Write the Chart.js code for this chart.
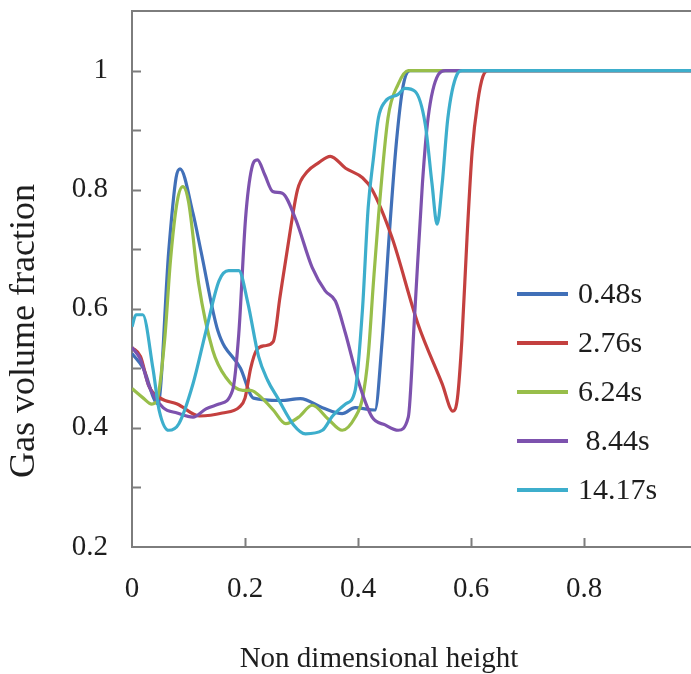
<!DOCTYPE html>
<html>
<head>
<meta charset="utf-8">
<script src="https://cdn.jsdelivr.net/npm/chart.js@4/dist/chart.umd.min.js"></script>
<style>
  html, body { margin: 0; padding: 0; background: #fff; overflow: hidden; }
  #wrap { width: 720px; height: 674px; }
</style>
</head>
<body>
<div id="wrap"><canvas id="gvfCtx" width="720" height="674"></canvas></div>
<script>
// series labels / colours
var seriesLabels = ['0.48s', '2.76s', '6.24s', ' 8.44s', '14.17s'];
var seriesColors = ['#4170B8', '#C4403F', '#98BE4A', '#7D52AE', '#3DAECC'];

// non dimensional height (x) and gas volume fraction (y)
var x048 = [0, 0.02, 0.046, 0.065, 0.078, 0.085, 0.108, 0.122, 0.152, 0.192, 0.215, 0.263, 0.298, 0.337, 0.372, 0.395, 0.43, 0.443, 0.455, 0.468, 0.48, 0.492, 1];
var y048 = [0.525, 0.50, 0.44, 0.697, 0.82, 0.835, 0.76, 0.697, 0.563, 0.50, 0.45, 0.446, 0.449, 0.434, 0.424, 0.434, 0.43, 0.55, 0.72, 0.88, 0.975, 1.0, 1.0];

var x276 = [0, 0.015, 0.03, 0.05, 0.08, 0.12, 0.16, 0.19, 0.2, 0.21, 0.22, 0.235, 0.25, 0.262, 0.275, 0.293, 0.31, 0.33, 0.351, 0.378, 0.408, 0.425, 0.46, 0.506, 0.549, 0.568, 0.576, 0.584, 0.593, 0.602, 0.612, 0.621, 0.632, 1];
var y276 = [0.535, 0.52, 0.47, 0.45, 0.44, 0.42, 0.425, 0.435, 0.45, 0.50, 0.53, 0.538, 0.545, 0.62, 0.70, 0.80, 0.83, 0.845, 0.856, 0.836, 0.82, 0.80, 0.72, 0.575, 0.474, 0.428, 0.45, 0.55, 0.72, 0.864, 0.948, 0.99, 1.0, 1.0];

var x624 = [0, 0.02, 0.035, 0.045, 0.058, 0.068, 0.08, 0.09, 0.1, 0.118, 0.143, 0.166, 0.196, 0.21, 0.23, 0.25, 0.272, 0.295, 0.319, 0.347, 0.372, 0.395, 0.408, 0.418, 0.427, 0.436, 0.453, 0.471, 0.489, 1];
var y624 = [0.466, 0.45, 0.44, 0.45, 0.55, 0.68, 0.78, 0.805, 0.78, 0.642, 0.53, 0.485, 0.463, 0.463, 0.45, 0.43, 0.407, 0.418, 0.438, 0.415, 0.396, 0.418, 0.45, 0.52, 0.64, 0.752, 0.92, 0.977, 1.0, 1.0];

var x844 = [0, 0.015, 0.03, 0.055, 0.08, 0.108, 0.131, 0.154, 0.178, 0.189, 0.201, 0.212, 0.222, 0.235, 0.249, 0.266, 0.289, 0.319, 0.342, 0.36, 0.378, 0.40, 0.425, 0.448, 0.471, 0.489, 0.50, 0.514, 0.524, 0.542, 0.555, 1];
var y844 = [0.535, 0.515, 0.47, 0.434, 0.425, 0.418, 0.432, 0.44, 0.463, 0.558, 0.752, 0.836, 0.85, 0.825, 0.797, 0.794, 0.752, 0.669, 0.63, 0.613, 0.558, 0.48, 0.418, 0.405, 0.396, 0.418, 0.585, 0.81, 0.92, 0.993, 1.0, 1.0];

var x1417 = [0, 0.007, 0.019, 0.037, 0.048, 0.065, 0.083, 0.108, 0.131, 0.154, 0.171, 0.189, 0.205, 0.224, 0.24, 0.258, 0.286, 0.307, 0.337, 0.355, 0.378, 0.395, 0.408, 0.418, 0.427, 0.436, 0.448, 0.471, 0.483, 0.501, 0.519, 0.531, 0.54, 0.549, 0.559, 0.575, 0.585, 1];
var y1417 = [0.57, 0.59, 0.59, 0.50, 0.43, 0.396, 0.407, 0.474, 0.563, 0.647, 0.664, 0.664, 0.61, 0.52, 0.48, 0.45, 0.405, 0.39, 0.396, 0.42, 0.44, 0.463, 0.60, 0.77, 0.85, 0.92, 0.948, 0.96, 0.97, 0.965, 0.91, 0.81, 0.742, 0.81, 0.92, 0.993, 1.0, 1.0];

var xSeries = [x048, x276, x624, x844, x1417];
var ySeries = [y048, y276, y624, y844, y1417];

var serif = '"Liberation Serif", "Times New Roman", serif';
var textColor = '#1e1e1e';
var axisColor = '#7d7d7d';

function pairs(xs, ys) {
    return xs.map(function(x, i) { return {x: x, y: ys[i]} })
}

var datasets = seriesLabels.map(function(lbl, i) {
    return {
        label: lbl,
        data: pairs(xSeries[i], ySeries[i]),
        borderColor: seriesColors[i],
        backgroundColor: seriesColors[i],
        borderWidth: 3.2,
        pointRadius: 0,
        cubicInterpolationMode: 'monotone',
        order: seriesLabels.length - 1 - i
    }
})

// inward ticks, top frame line, axis titles and the legend box
var decor = {
    id: 'decor',
    afterDraw: function(chart) {
        var ctx = chart.ctx
        var xs = chart.scales.x, ys = chart.scales.y
        var a = chart.chartArea
        ctx.save()
        ctx.strokeStyle = axisColor
        ctx.lineWidth = 2
        ctx.beginPath()
        ctx.moveTo(a.left - 1, a.top)
        ctx.lineTo(a.right + 5, a.top)
        ys.ticks.forEach(function(t) {
            if (t.value <= 0.2 + 1e-9 || t.value > 1.0 + 1e-9) return
            var py = Math.round(ys.getPixelForValue(t.value)) + 0.5
            ctx.moveTo(a.left, py)
            ctx.lineTo(a.left + 9, py)
        })
        xs.ticks.forEach(function(t) {
            if (t.value <= 1e-9) return
            var px = Math.round(xs.getPixelForValue(t.value)) + 0.5
            ctx.moveTo(px, a.bottom)
            ctx.lineTo(px, a.bottom - 9)
        })
        ctx.stroke()

        // axis titles
        ctx.fillStyle = textColor
        ctx.textAlign = 'center'
        ctx.textBaseline = 'middle'
        ctx.font = '29px ' + serif
        ctx.fillText('Non dimensional height', 379, 659)
        ctx.save()
        ctx.translate(25, 331)
        ctx.rotate(-Math.PI / 2)
        ctx.font = '36px ' + serif
        ctx.fillText('Gas volume fraction', 0, 0)
        ctx.restore()

        // legend
        ctx.font = '30px ' + serif
        ctx.textAlign = 'left'
        chart.data.datasets.forEach(function(ds, i) {
            var ly = 294 + i * 49
            ctx.strokeStyle = ds.borderColor
            ctx.lineWidth = 4
            ctx.beginPath()
            ctx.moveTo(517, ly)
            ctx.lineTo(568, ly)
            ctx.stroke()
            ctx.fillStyle = textColor
            ctx.fillText(ds.label, 578, ly + 1)
        })
        ctx.restore()
    }
}

new Chart(document.getElementById('gvfCtx'), {
    type: 'line',
    data: { datasets: datasets },
    options: {
        responsive: false,
        animation: false,
        devicePixelRatio: 1,
        layout: { padding: { top: 11, right: 23, left: 0, bottom: 0 } },
        plugins: {
            legend: { display: false },
            tooltip: { enabled: false }
        },
        scales: {
            x: {
                type: 'linear',
                min: 0,
                max: 1,
                ticks: {
                    stepSize: 0.2,
                    padding: 0,
                    maxRotation: 0,
                    color: textColor,
                    font: { family: serif, size: 29, lineHeight: 0.7 },
                    callback: function(v) { return String(Math.round(v * 10) / 10) }
                },
                // transparent tick marks only used to push the labels away from the axis
                grid: { drawOnChartArea: false, drawTicks: true, tickLength: 32, tickColor: 'rgba(0,0,0,0)' },
                border: { display: true, color: axisColor, width: 2 },
                afterFit: function(s) { s.height = 127 }
            },
            y: {
                type: 'linear',
                min: 0.2,
                max: 1.1,
                ticks: {
                    stepSize: 0.1,
                    padding: 0,
                    color: textColor,
                    font: { family: serif, size: 29, lineHeight: 0.7 },
                    callback: function(v) {
                        var k = Math.round(v * 10)
                        if (k % 2 !== 0 || k > 10) return ''
                        return String(k / 10)
                    }
                },
                grid: { drawOnChartArea: false, drawTicks: true, tickLength: 24, tickColor: 'rgba(0,0,0,0)' },
                border: { display: true, color: axisColor, width: 2 },
                afterFit: function(s) { s.width = 132 }
            }
        }
    },
    plugins: [decor]
});
</script>
</body>
</html>
